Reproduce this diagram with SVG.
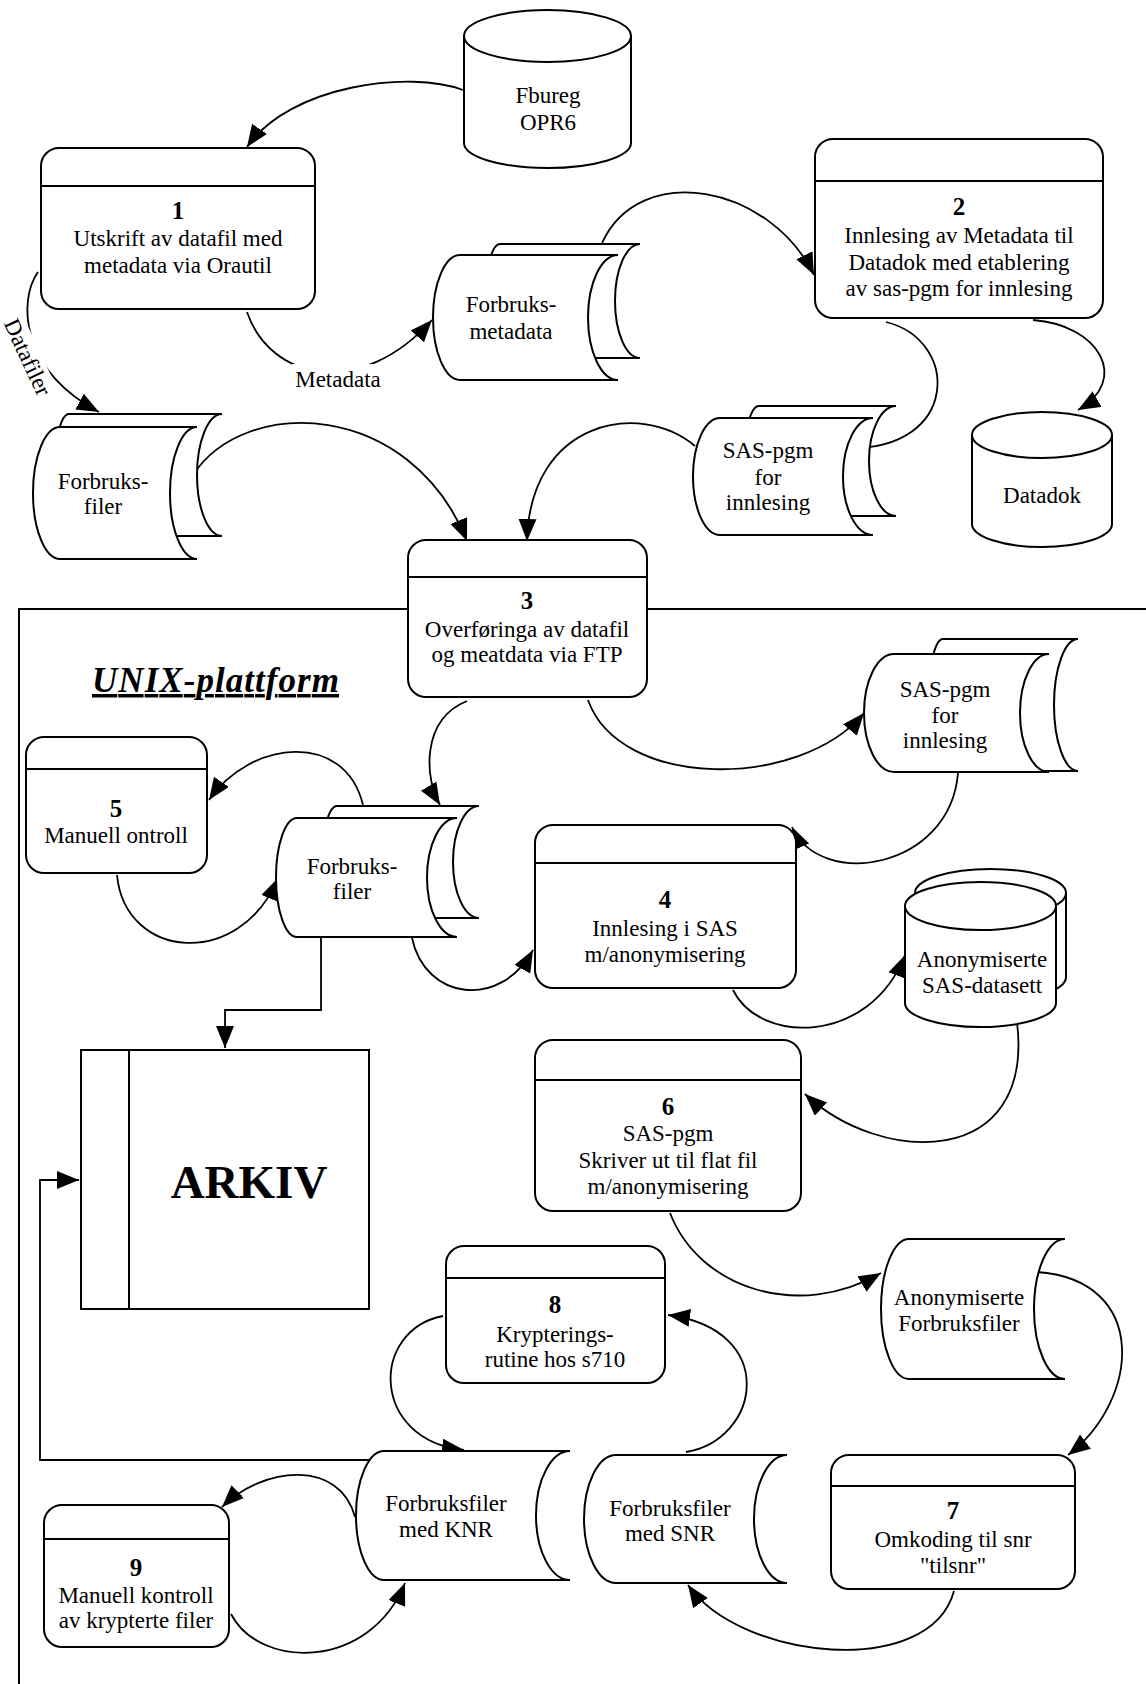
<svg xmlns="http://www.w3.org/2000/svg" width="1146" height="1684" viewBox="0 0 1146 1684">
<style>
.s{fill:#fff;stroke:#000;stroke-width:2}
.l{fill:none;stroke:#000;stroke-width:2}
.c{fill:none;stroke:#000;stroke-width:1.8;marker-end:url(#ah)}
.t{font-family:"Liberation Serif","Times New Roman",serif;font-size:23px;text-anchor:middle;fill:#000}
.n{font-weight:bold;font-size:25px}
</style>
<defs>
<marker id="ah" markerUnits="userSpaceOnUse" markerWidth="24" markerHeight="20" refX="22" refY="9" orient="auto"><path d="M0,0 L22,9 L0,18 Z" fill="#000"/></marker>
</defs>
<rect width="1146" height="1684" fill="#fff"/>

<g id="unix-frame">
<path class="l" d="M19,1690 L19,609 L1150,609"/>
<text x="92" y="692" style="font-family:'Liberation Serif','Times New Roman',serif;font-size:35px;font-weight:bold;font-style:italic;text-decoration:underline" textLength="247">UNIX-plattform</text>
</g>

<g id="connectors">
<path class="c" d="M463,90 C410,70 290,85 247,147"/>
<path class="c" d="M38,272 C18,300 20,370 99,412"/>
<path class="c" d="M247,312 C270,380 360,400 432,320"/>
<path class="c" d="M602,243 C640,160 770,185 814,275"/>
<path class="c" d="M886,322 C960,340 960,450 848,448"/>
<path class="c" d="M1033,320 C1100,325 1130,380 1078,410"/>
<path class="c" d="M193,475 C245,395 410,400 467,541"/>
<path class="c" d="M695,446 C640,400 530,420 527,541"/>
<path class="c" d="M467,701 C420,720 425,780 440,805"/>
<path class="c" d="M363,805 C345,730 250,740 209,800"/>
<path class="c" d="M117,875 C125,960 240,970 278,878"/>
<path class="c" d="M412,938 C425,1000 500,1010 533,950"/>
<path class="c" d="M588,700 C620,790 800,790 864,713"/>
<path class="c" d="M958,773 C950,870 820,890 792,827"/>
<path class="c" d="M733,990 C760,1045 870,1045 905,955"/>
<path class="c" d="M1017,1022 C1035,1170 880,1165 805,1094"/>
<path class="c" d="M670,1213 C700,1290 800,1320 881,1273"/>
<path class="c" d="M1037,1272 C1150,1280 1140,1400 1068,1455"/>
<path class="c" d="M954,1591 C930,1680 740,1660 688,1585"/>
<path class="c" d="M686,1452 C760,1440 780,1330 668,1315"/>
<path class="c" d="M443,1316 C370,1330 370,1440 464,1450"/>
<path class="c" d="M355,1517 C340,1460 265,1465 222,1507"/>
<path class="c" d="M231,1614 C260,1670 370,1670 405,1583"/>
<path class="c" d="M321,937 L321,1010 L225,1010 L225,1048"/>
<path class="c" d="M371,1460 L40,1460 L40,1180 L79,1180"/>
<g transform="translate(28,357) rotate(65)">
<rect x="-45" y="-13" width="90" height="25" fill="#fff"/>
<text class="t" x="0" y="8">Datafiler</text>
</g>
<rect x="292" y="364" width="92" height="28" fill="#fff"/>
<text class="t" x="338" y="387">Metadata</text>
</g>

<g id="fbureg">
<path class="s" d="M464,36 L464,143 A83.5,25 0 0 0 631,143 L631,36 Z"/>
<ellipse class="s" cx="547.5" cy="36" rx="83.5" ry="26"/>
<text class="t" x="548" y="103">Fbureg</text>
<text class="t" x="548" y="130">OPR6</text>
</g>

<g id="p1">
<rect class="s" x="41" y="148" width="274" height="161" rx="18"/>
<line class="l" x1="41" y1="186" x2="315" y2="186"/>
<text class="t n" x="178" y="219">1</text>
<text class="t" x="178" y="246">Utskrift av datafil med</text>
<text class="t" x="178" y="273">metadata via Orautil</text>
</g>

<g id="p2">
<rect class="s" x="815" y="139" width="288" height="179" rx="18"/>
<line class="l" x1="815" y1="181" x2="1103" y2="181"/>
<text class="t n" x="959" y="215">2</text>
<text class="t" x="959" y="243">Innlesing av Metadata til</text>
<text class="t" x="959" y="270">Datadok med etablering</text>
<text class="t" x="959" y="296">av sas-pgm for innlesing</text>
</g>

<g id="forbruks-metadata">
<path class="s" d="M500,244 L640,244 A25,57 0 0 0 640,358 L500,358 A15,57 0 0 1 500,244 Z"/>
<path class="s" d="M460,255 L618,255 A30,62.5 0 0 0 618,380 L460,380 A27,62.5 0 0 1 460,255 Z"/>
<text class="t" x="511" y="312">Forbruks-</text>
<text class="t" x="511" y="339">metadata</text>
</g>

<g id="forbruks-filer-1">
<path class="s" d="M69,414 L222,414 A25,61 0 0 0 222,536 L69,536 A15,61 0 0 1 69,414 Z"/>
<path class="s" d="M60,427 L197,427 A27,66 0 0 0 197,559 L60,559 A27,66 0 0 1 60,427 Z"/>
<text class="t" x="103" y="489">Forbruks-</text>
<text class="t" x="103" y="514">filer</text>
</g>

<g id="sas-pgm-1">
<path class="s" d="M759,406 L896,406 A27,55 0 0 0 896,516 L759,516 A15,55 0 0 1 759,406 Z"/>
<path class="s" d="M720,418 L873,418 A30,58.5 0 0 0 873,535 L720,535 A27,58.5 0 0 1 720,418 Z"/>
<text class="t" x="768" y="458">SAS-pgm</text>
<text class="t" x="768" y="485">for</text>
<text class="t" x="768" y="510">innlesing</text>
</g>

<g id="datadok">
<path class="s" d="M972,435 L972,524 A70,23 0 0 0 1112,524 L1112,435 Z"/>
<ellipse class="s" cx="1042" cy="435" rx="70" ry="23"/>
<text class="t" x="1042" y="503">Datadok</text>
</g>

<g id="p3">
<rect class="s" x="408" y="540" width="239" height="157" rx="18"/>
<line class="l" x1="408" y1="577" x2="647" y2="577"/>
<text class="t n" x="527" y="609">3</text>
<text class="t" x="527" y="637">Overføringa av datafil</text>
<text class="t" x="527" y="662">og meatdata via FTP</text>
</g>

<g id="sas-pgm-2">
<path class="s" d="M943,639 L1078,639 A24,66 0 0 0 1078,771 L943,771 A15,66 0 0 1 943,639 Z"/>
<path class="s" d="M894,654 L1049,654 A29,59 0 0 0 1049,772 L894,772 A30,59 0 0 1 894,654 Z"/>
<text class="t" x="945" y="697">SAS-pgm</text>
<text class="t" x="945" y="723">for</text>
<text class="t" x="945" y="748">innlesing</text>
</g>

<g id="p5">
<rect class="s" x="26" y="737" width="181" height="136" rx="18"/>
<line class="l" x1="26" y1="769" x2="207" y2="769"/>
<text class="t n" x="116" y="817">5</text>
<text class="t" x="116" y="843">Manuell ontroll</text>
</g>

<g id="forbruks-filer-2">
<path class="s" d="M337,806 L479,806 A26,56 0 0 0 479,918 L337,918 A15,56 0 0 1 337,806 Z"/>
<path class="s" d="M297,818 L457,818 A30,59.5 0 0 0 457,937 L297,937 A21,59.5 0 0 1 297,818 Z"/>
<text class="t" x="352" y="874">Forbruks-</text>
<text class="t" x="352" y="899">filer</text>
</g>

<g id="p4">
<rect class="s" x="535" y="825" width="261" height="163" rx="18"/>
<line class="l" x1="535" y1="863" x2="796" y2="863"/>
<text class="t n" x="665" y="908">4</text>
<text class="t" x="665" y="936">Innlesing i SAS</text>
<text class="t" x="665" y="962">m/anonymisering</text>
</g>

<g id="anon-sas">
<path class="s" d="M915,893 L915,977 A75.5,24 0 0 0 1066,977 L1066,893 Z"/>
<ellipse class="s" cx="990.5" cy="893" rx="75.5" ry="24"/>
<path class="s" d="M905,906 L905,1003 A75.5,24 0 0 0 1056,1003 L1056,906 Z"/>
<ellipse class="s" cx="980.5" cy="906" rx="75.5" ry="24"/>
<text class="t" x="982" y="967">Anonymiserte</text>
<text class="t" x="982" y="993">SAS-datasett</text>
</g>

<g id="arkiv">
<rect class="s" x="81" y="1050" width="288" height="259"/>
<line class="l" x1="129" y1="1050" x2="129" y2="1309"/>
<text class="t n" x="249" y="1198" style="font-size:47px">ARKIV</text>
</g>

<g id="p6">
<rect class="s" x="535" y="1040" width="266" height="171" rx="18"/>
<line class="l" x1="535" y1="1080" x2="801" y2="1080"/>
<text class="t n" x="668" y="1115">6</text>
<text class="t" x="668" y="1141">SAS-pgm</text>
<text class="t" x="668" y="1168">Skriver ut til flat fil</text>
<text class="t" x="668" y="1194">m/anonymisering</text>
</g>

<g id="anon-forbruksfiler">
<path class="s" d="M909,1239 L1065,1239 A31,70 0 0 0 1065,1379 L909,1379 A28,70 0 0 1 909,1239 Z"/>
<text class="t" x="959" y="1305">Anonymiserte</text>
<text class="t" x="959" y="1331">Forbruksfiler</text>
</g>

<g id="p8">
<rect class="s" x="446" y="1246" width="219" height="137" rx="18"/>
<line class="l" x1="446" y1="1278" x2="665" y2="1278"/>
<text class="t n" x="555" y="1313">8</text>
<text class="t" x="555" y="1342">Krypterings-</text>
<text class="t" x="555" y="1367">rutine hos s710</text>
</g>

<g id="forbruksfiler-knr">
<path class="s" d="M384,1451 L570,1451 A34,64.5 0 0 0 570,1580 L384,1580 A28,64.5 0 0 1 384,1451 Z"/>
<text class="t" x="446" y="1511">Forbruksfiler</text>
<text class="t" x="446" y="1537">med KNR</text>
</g>

<g id="forbruksfiler-snr">
<path class="s" d="M616,1455 L787,1455 A33,64 0 0 0 787,1583 L616,1583 A32,64 0 0 1 616,1455 Z"/>
<text class="t" x="670" y="1516">Forbruksfiler</text>
<text class="t" x="670" y="1541">med SNR</text>
</g>

<g id="p7">
<rect class="s" x="831" y="1455" width="244" height="134" rx="18"/>
<line class="l" x1="831" y1="1486" x2="1075" y2="1486"/>
<text class="t n" x="953" y="1519">7</text>
<text class="t" x="953" y="1547">Omkoding til snr</text>
<text class="t" x="953" y="1573">"tilsnr"</text>
</g>

<g id="p9">
<rect class="s" x="44" y="1505" width="185" height="142" rx="18"/>
<line class="l" x1="44" y1="1539" x2="229" y2="1539"/>
<text class="t n" x="136" y="1576">9</text>
<text class="t" x="136" y="1603">Manuell kontroll</text>
<text class="t" x="136" y="1628">av krypterte filer</text>
</g>
</svg>
